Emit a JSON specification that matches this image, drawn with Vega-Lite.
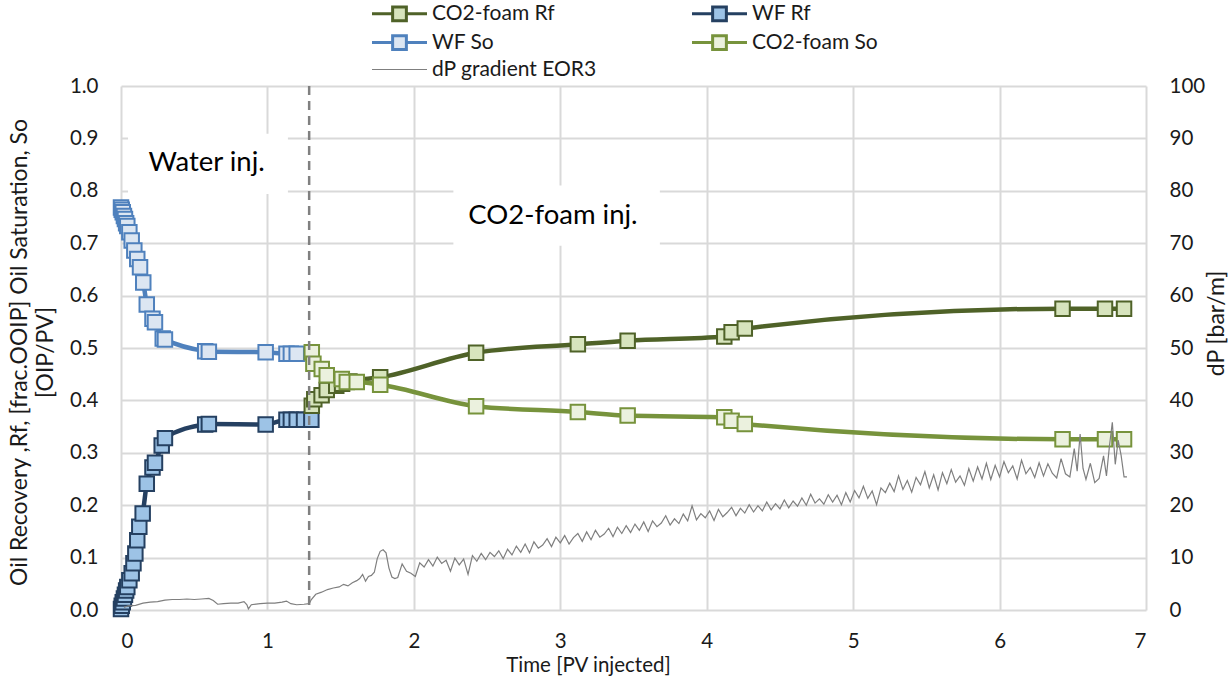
{
"$schema":"https://vega.github.io/schema/vega-lite/v6.json",
"width":1025,"height":524,
"autosize":{"type":"none"},
"padding":{"left":121,"top":86,"right":86,"bottom":70},
"background":"white",
"config":{"font":"Lato","view":{"stroke":null},
 "axis":{"labelFont":"Lato","titleFont":"Lato","labelColor":"#1a1a1a","titleColor":"#1a1a1a","titleFontWeight":"normal","gridColor":"#D9D9D9","gridWidth":2,"domain":false,"ticks":false,"tickSize":0,"labelFontSize":20.5,"titleFontSize":20.5}},
"datasets":{
"main":[
{"series":"WF So","t":0.0,"v":0.768},{"series":"WF So","t":0.005,"v":0.764},{"series":"WF So","t":0.012,"v":0.759},{"series":"WF So","t":0.02,"v":0.752},{"series":"WF So","t":0.027,"v":0.746},{"series":"WF So","t":0.035,"v":0.738},{"series":"WF So","t":0.043,"v":0.733},{"series":"WF So","t":0.057,"v":0.721},{"series":"WF So","t":0.073,"v":0.705},{"series":"WF So","t":0.091,"v":0.686},{"series":"WF So","t":0.111,"v":0.67},{"series":"WF So","t":0.13,"v":0.654},{"series":"WF So","t":0.152,"v":0.625},{"series":"WF So","t":0.176,"v":0.583},{"series":"WF So","t":0.215,"v":0.556},{"series":"WF So","t":0.232,"v":0.549},{"series":"WF So","t":0.285,"v":0.518},{"series":"WF So","t":0.3,"v":0.516},{"series":"WF So","t":0.575,"v":0.494},{"series":"WF So","t":0.6,"v":0.493},{"series":"WF So","t":0.988,"v":0.492},{"series":"WF So","t":1.13,"v":0.489},{"series":"WF So","t":1.16,"v":0.489},{"series":"WF So","t":1.2,"v":0.489},
{"series":"WF Rf","t":0.0,"v":0.002},{"series":"WF Rf","t":0.005,"v":0.008},{"series":"WF Rf","t":0.012,"v":0.015},{"series":"WF Rf","t":0.02,"v":0.022},{"series":"WF Rf","t":0.027,"v":0.029},{"series":"WF Rf","t":0.035,"v":0.037},{"series":"WF Rf","t":0.043,"v":0.044},{"series":"WF Rf","t":0.057,"v":0.057},{"series":"WF Rf","t":0.073,"v":0.07},{"series":"WF Rf","t":0.085,"v":0.089},{"series":"WF Rf","t":0.098,"v":0.108},{"series":"WF Rf","t":0.111,"v":0.133},{"series":"WF Rf","t":0.125,"v":0.159},{"series":"WF Rf","t":0.148,"v":0.184},{"series":"WF Rf","t":0.176,"v":0.241},{"series":"WF Rf","t":0.215,"v":0.272},{"series":"WF Rf","t":0.232,"v":0.281},{"series":"WF Rf","t":0.278,"v":0.314},{"series":"WF Rf","t":0.3,"v":0.328},{"series":"WF Rf","t":0.575,"v":0.354},{"series":"WF Rf","t":0.6,"v":0.355},{"series":"WF Rf","t":0.988,"v":0.354},{"series":"WF Rf","t":1.13,"v":0.363},{"series":"WF Rf","t":1.16,"v":0.363},{"series":"WF Rf","t":1.2,"v":0.363},{"series":"WF Rf","t":1.25,"v":0.363},{"series":"WF Rf","t":1.3,"v":0.363},
{"series":"CO2-foam Rf","t":1.303,"v":0.39},{"series":"CO2-foam Rf","t":1.32,"v":0.402},{"series":"CO2-foam Rf","t":1.37,"v":0.41},{"series":"CO2-foam Rf","t":1.405,"v":0.42},{"series":"CO2-foam Rf","t":1.47,"v":0.428},{"series":"CO2-foam Rf","t":1.51,"v":0.432},{"series":"CO2-foam Rf","t":1.56,"v":0.436},{"series":"CO2-foam Rf","t":1.77,"v":0.444},{"series":"CO2-foam Rf","t":2.425,"v":0.491},{"series":"CO2-foam Rf","t":3.12,"v":0.507},{"series":"CO2-foam Rf","t":3.46,"v":0.514},{"series":"CO2-foam Rf","t":4.12,"v":0.522},{"series":"CO2-foam Rf","t":4.17,"v":0.53},{"series":"CO2-foam Rf","t":4.26,"v":0.537},{"series":"CO2-foam Rf","t":6.43,"v":0.575},{"series":"CO2-foam Rf","t":6.72,"v":0.575},{"series":"CO2-foam Rf","t":6.85,"v":0.575},
{"series":"CO2-foam So","t":1.303,"v":0.492},{"series":"CO2-foam So","t":1.314,"v":0.47},{"series":"CO2-foam So","t":1.371,"v":0.46},{"series":"CO2-foam So","t":1.405,"v":0.448},{"series":"CO2-foam So","t":1.508,"v":0.441},{"series":"CO2-foam So","t":1.542,"v":0.435},{"series":"CO2-foam So","t":1.61,"v":0.435},{"series":"CO2-foam So","t":1.77,"v":0.43},{"series":"CO2-foam So","t":2.425,"v":0.389},{"series":"CO2-foam So","t":3.12,"v":0.378},{"series":"CO2-foam So","t":3.46,"v":0.371},{"series":"CO2-foam So","t":4.12,"v":0.368},{"series":"CO2-foam So","t":4.17,"v":0.361},{"series":"CO2-foam So","t":4.26,"v":0.355},{"series":"CO2-foam So","t":6.43,"v":0.326},{"series":"CO2-foam So","t":6.72,"v":0.326},{"series":"CO2-foam So","t":6.85,"v":0.326}
],
"boxes":[{"t":0.048,"t2":1.14,"v":0.794,"v2":0.909},{"t":2.27,"t2":3.68,"v":0.695,"v2":0.81}],
"labels":[{"t":0.585,"v":0.854,"label":"Water inj."},{"t":2.95,"v":0.752,"label":"CO2-foam inj."}],
"switch":[{"t":1.285}],
"dp":[
{"t":0.02,"dp":0.5},{"t":0.05,"dp":0.8},{"t":0.1,"dp":0.9},{"t":0.15,"dp":1.3},{"t":0.2,"dp":1.5},{"t":0.25,"dp":1.6},{"t":0.3,"dp":1.9},{"t":0.35,"dp":2.0},{"t":0.4,"dp":2.0},{"t":0.45,"dp":2.1},{"t":0.5,"dp":2.0},{"t":0.55,"dp":2.1},{"t":0.6,"dp":2.2},{"t":0.63,"dp":1.8},{"t":0.66,"dp":1.1},{"t":0.7,"dp":1.2},{"t":0.75,"dp":1.3},{"t":0.8,"dp":1.3},{"t":0.84,"dp":1.6},{"t":0.86,"dp":1.0},{"t":0.87,"dp":0.2},{"t":0.89,"dp":1.0},{"t":0.95,"dp":1.2},{"t":1.0,"dp":1.3},{"t":1.05,"dp":1.3},{"t":1.1,"dp":1.5},{"t":1.13,"dp":1.7},{"t":1.16,"dp":1.2},{"t":1.2,"dp":1.0},{"t":1.25,"dp":1.1},{"t":1.285,"dp":1.2},{"t":1.3,"dp":2.0},{"t":1.33,"dp":3.0},{"t":1.37,"dp":3.4},{"t":1.41,"dp":3.9},{"t":1.45,"dp":4.2},{"t":1.49,"dp":4.4},{"t":1.52,"dp":4.9},{"t":1.55,"dp":4.6},{"t":1.58,"dp":5.2},{"t":1.61,"dp":5.6},{"t":1.63,"dp":6.0},{"t":1.65,"dp":6.8},{"t":1.67,"dp":5.5},{"t":1.69,"dp":6.4},{"t":1.71,"dp":6.6},{"t":1.73,"dp":7.2},{"t":1.75,"dp":9.8},{"t":1.77,"dp":11.2},{"t":1.79,"dp":11.5},{"t":1.81,"dp":10.9},{"t":1.83,"dp":8.0},{"t":1.85,"dp":6.3},{"t":1.87,"dp":6.0},
{"t":1.89,"dp":6.2},{"t":1.92,"dp":8.8},{"t":1.95,"dp":7.4},{"t":1.98,"dp":7.0},{"t":2.01,"dp":6.4},{"t":2.04,"dp":9.0},{"t":2.07,"dp":8.2},{"t":2.1,"dp":9.6},{"t":2.13,"dp":8.4},{"t":2.16,"dp":10.1},{"t":2.19,"dp":8.9},{"t":2.22,"dp":9.5},{"t":2.25,"dp":7.4},{"t":2.28,"dp":9.9},{"t":2.31,"dp":8.6},{"t":2.34,"dp":9.7},{"t":2.37,"dp":6.8},{"t":2.4,"dp":10.4},{"t":2.43,"dp":9.3},{"t":2.46,"dp":10.8},{"t":2.49,"dp":9.6},{"t":2.52,"dp":11.0},{"t":2.55,"dp":10.2},{"t":2.58,"dp":11.3},{"t":2.61,"dp":9.8},{"t":2.64,"dp":11.6},{"t":2.67,"dp":10.5},{"t":2.7,"dp":12.2},{"t":2.73,"dp":11.0},{"t":2.76,"dp":12.6},{"t":2.79,"dp":10.9},{"t":2.82,"dp":13.0},{"t":2.85,"dp":11.8},{"t":2.88,"dp":12.4},{"t":2.91,"dp":13.6},{"t":2.94,"dp":12.1},{"t":2.97,"dp":13.9},{"t":3.0,"dp":12.8},
{"t":3.03,"dp":14.2},{"t":3.06,"dp":12.6},{"t":3.09,"dp":13.8},{"t":3.12,"dp":14.6},{"t":3.15,"dp":13.1},{"t":3.18,"dp":14.9},{"t":3.21,"dp":13.4},{"t":3.24,"dp":15.2},{"t":3.27,"dp":13.9},{"t":3.3,"dp":14.5},{"t":3.33,"dp":15.6},{"t":3.36,"dp":14.0},{"t":3.39,"dp":15.8},{"t":3.42,"dp":14.6},{"t":3.45,"dp":16.1},{"t":3.48,"dp":14.8},{"t":3.51,"dp":16.4},{"t":3.54,"dp":15.2},{"t":3.57,"dp":16.8},{"t":3.6,"dp":15.0},{"t":3.63,"dp":17.0},{"t":3.66,"dp":15.9},{"t":3.69,"dp":16.6},{"t":3.72,"dp":18.0},{"t":3.75,"dp":16.2},{"t":3.78,"dp":17.4},{"t":3.81,"dp":16.5},{"t":3.84,"dp":18.3},{"t":3.87,"dp":17.0},{"t":3.9,"dp":19.9},{"t":3.93,"dp":17.2},{"t":3.96,"dp":18.4},{"t":3.99,"dp":17.6},
{"t":4.02,"dp":18.9},{"t":4.05,"dp":17.1},{"t":4.08,"dp":19.2},{"t":4.11,"dp":17.8},{"t":4.14,"dp":18.6},{"t":4.17,"dp":19.6},{"t":4.2,"dp":18.0},{"t":4.23,"dp":19.4},{"t":4.26,"dp":18.5},{"t":4.29,"dp":20.1},{"t":4.32,"dp":18.7},{"t":4.35,"dp":19.9},{"t":4.38,"dp":18.9},{"t":4.41,"dp":20.6},{"t":4.44,"dp":19.1},{"t":4.47,"dp":20.3},{"t":4.5,"dp":19.3},{"t":4.53,"dp":21.0},{"t":4.56,"dp":19.5},{"t":4.59,"dp":20.8},{"t":4.62,"dp":19.8},{"t":4.65,"dp":21.4},{"t":4.68,"dp":20.0},{"t":4.71,"dp":22.1},{"t":4.74,"dp":20.4},{"t":4.77,"dp":21.2},{"t":4.8,"dp":20.2},{"t":4.83,"dp":22.0},{"t":4.86,"dp":20.6},{"t":4.89,"dp":21.9},{"t":4.92,"dp":20.1},{"t":4.95,"dp":22.4},{"t":4.98,"dp":20.6},
{"t":5.01,"dp":22.8},{"t":5.04,"dp":21.4},{"t":5.07,"dp":23.6},{"t":5.1,"dp":21.3},{"t":5.13,"dp":22.7},{"t":5.16,"dp":20.1},{"t":5.19,"dp":23.3},{"t":5.22,"dp":22.4},{"t":5.25,"dp":24.2},{"t":5.28,"dp":22.6},{"t":5.31,"dp":25.6},{"t":5.34,"dp":23.0},{"t":5.37,"dp":24.7},{"t":5.4,"dp":22.5},{"t":5.43,"dp":25.3},{"t":5.46,"dp":23.9},{"t":5.49,"dp":26.4},{"t":5.52,"dp":23.3},{"t":5.55,"dp":25.8},{"t":5.58,"dp":22.9},{"t":5.61,"dp":26.2},{"t":5.64,"dp":24.1},{"t":5.67,"dp":26.8},{"t":5.7,"dp":24.4},{"t":5.73,"dp":25.6},{"t":5.76,"dp":23.8},{"t":5.79,"dp":27.0},{"t":5.82,"dp":24.6},{"t":5.85,"dp":27.3},{"t":5.88,"dp":25.0},{"t":5.91,"dp":28.0},{"t":5.94,"dp":24.9},{"t":5.97,"dp":27.6},
{"t":6.0,"dp":25.4},{"t":6.03,"dp":28.3},{"t":6.06,"dp":26.2},{"t":6.09,"dp":27.5},{"t":6.12,"dp":25.0},{"t":6.15,"dp":28.6},{"t":6.18,"dp":26.0},{"t":6.21,"dp":27.2},{"t":6.24,"dp":25.3},{"t":6.27,"dp":28.1},{"t":6.3,"dp":25.6},{"t":6.33,"dp":27.9},{"t":6.36,"dp":26.1},{"t":6.39,"dp":25.2},{"t":6.42,"dp":28.9},{"t":6.45,"dp":26.0},{"t":6.48,"dp":25.4},{"t":6.51,"dp":30.8},{"t":6.53,"dp":26.5},{"t":6.55,"dp":33.6},{"t":6.57,"dp":27.0},{"t":6.59,"dp":24.9},{"t":6.62,"dp":28.0},{"t":6.65,"dp":24.3},{"t":6.68,"dp":25.1},{"t":6.71,"dp":29.4},{"t":6.73,"dp":25.6},{"t":6.75,"dp":31.2},{"t":6.77,"dp":35.8},{"t":6.79,"dp":27.8},{"t":6.81,"dp":32.4},{"t":6.83,"dp":29.5},{"t":6.85,"dp":25.4},{"t":6.87,"dp":25.4}
]},
"encoding":{"x":{"field":"t","type":"quantitative","scale":{"domain":[0,7],"nice":false,"zero":false},
 "axis":{"values":[0,1,2,3,4,5,6,7],"title":"Time [PV injected]","labelPadding":21,"titleX":467,"titleY":55,"titleBaseline":"middle","grid":true}}},
"layer":[
 {"encoding":{"y":{"field":"v","type":"quantitative","scale":{"domain":[0,1],"nice":false,"zero":false},
   "axis":{"values":[0,0.1,0.2,0.3,0.4,0.5,0.6,0.7,0.8,0.9,1.0],"format":".1f","labelPadding":23,"grid":true,
   "title":["Oil Recovery ,Rf, [frac.OOIP] Oil Saturation, So","[OIP/PV]"],"titleFontSize":23,"titleAngle":-90,"titleX":-102,"titleY":266,"titleBaseline":"middle","titleLineHeight":26,"titleAlign":"center"}}},
  "layer":[
   {"data":{"name":"boxes"},"mark":{"type":"rect","fill":"white","stroke":null},"encoding":{"x2":{"field":"t2"},"y2":{"field":"v2"}}},
   {"data":{"name":"labels"},"mark":{"type":"text","fontSize":27.5,"font":"Lato","color":"#000000","align":"center","baseline":"middle"},"encoding":{"text":{"field":"label"}}},
   {"data":{"name":"main"},"mark":{"type":"line","strokeWidth":4.5,"interpolate":"monotone"},
    "encoding":{"stroke":{"field":"series","type":"nominal",
      "scale":{"domain":["CO2-foam Rf","WF So","dP gradient EOR3","WF Rf","CO2-foam So"],"range":["#4F6228","#4F81BD","#7F7F7F","#254061","#77933C"]},
      "legend":{"title":null,"orient":"none","legendX":268,"legendY":-83,"columns":2,"columnPadding":89,"rowPadding":2,"padding":0,
        "labelFont":"Lato","labelFontSize":21,"labelColor":"#1a1a1a","labelLimit":300,"symbolSize":3025,"labelOffset":22,
        "encode":{"symbols":{"update":{
          "shape":{"signal":"datum.value === 'dP gradient EOR3' ? 'M-1,0H1' : 'M-1,0H-0.25M0.25,0H1M-0.25,-0.25H0.25V0.25H-0.25Z'"},
          "fill":{"signal":"datum.value === 'CO2-foam Rf' ? '#D7E4BD' : datum.value === 'WF Rf' ? '#9DC3E6' : datum.value === 'WF So' ? '#DCE6F2' : datum.value === 'CO2-foam So' ? '#EBF1DE' : 'transparent'"},
          "strokeWidth":{"signal":"datum.value === 'dP gradient EOR3' ? 1 : 3"},
          "opacity":{"value":1}}}}}}}},
   {"data":{"name":"main"},"mark":{"type":"point","shape":"square","filled":true,"size":210,"strokeWidth":2,"opacity":1},
    "encoding":{"stroke":{"field":"series","type":"nominal","scale":{"domain":["CO2-foam Rf","WF So","dP gradient EOR3","WF Rf","CO2-foam So"],"range":["#4F6228","#4F81BD","#7F7F7F","#254061","#77933C"]}},
     "fill":{"field":"series","type":"nominal","scale":{"domain":["CO2-foam Rf","WF Rf","WF So","CO2-foam So"],"range":["#D7E4BD","#9DC3E6","#DCE6F2","#EBF1DE"]},"legend":null}}}
  ]},
 {"data":{"name":"switch"},"mark":{"type":"rule","color":"#808080","strokeWidth":2.5,"strokeDash":[9,6]},"encoding":{}},
 {"data":{"name":"dp"},"mark":{"type":"line","strokeWidth":1.2},
  "encoding":{"y":{"field":"dp","type":"quantitative","scale":{"domain":[0,100],"nice":false,"zero":false},
    "axis":{"orient":"right","values":[0,10,20,30,40,50,60,70,80,90,100],"grid":false,"labelPadding":23,"title":"dP [bar/m]","titleFontSize":23,"titleAngle":-90,"titleX":70,"titleY":237,"titleBaseline":"middle","titleAlign":"center"}},
   "stroke":{"datum":"dP gradient EOR3","type":"nominal","scale":{"domain":["CO2-foam Rf","WF So","dP gradient EOR3","WF Rf","CO2-foam So"],"range":["#4F6228","#4F81BD","#7F7F7F","#254061","#77933C"]}}}}
],
"resolve":{"scale":{"y":"independent"}}
}
